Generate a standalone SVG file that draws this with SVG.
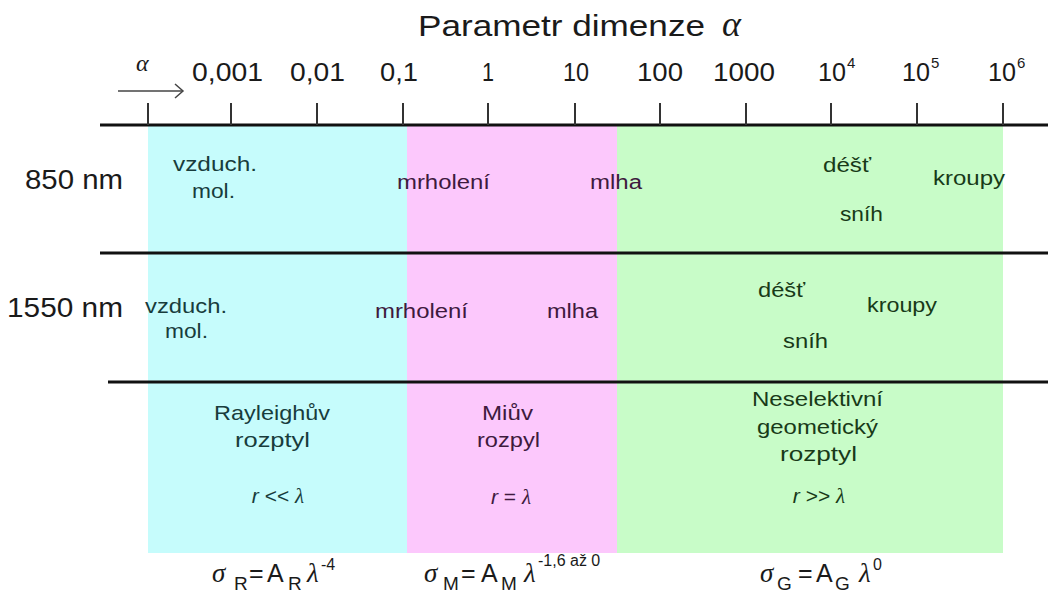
<svg xmlns="http://www.w3.org/2000/svg" width="1048" height="594" viewBox="0 0 1048 594">
<style>
.s{font-family:"Liberation Sans",Arial,sans-serif}
.t{font-family:"Liberation Sans",Arial,sans-serif;font-size:20px}
.b{font-family:"Liberation Sans",Arial,sans-serif;font-size:21px}
.g{font-family:"Liberation Serif","Times New Roman",serif;font-style:italic}
.ax{stroke:#111;stroke-width:3}
.tk{stroke:#333;stroke-width:2}
.c1{fill:#183c3c}
.c2{fill:#3e1a3e}
.c3{fill:#183a18}
.k{fill:#1a1a1a}
</style>
<g id="regions">
<rect x="148" y="126" width="259" height="427" fill="#c6fcfc"/>
<rect x="407" y="126" width="210" height="427" fill="#fcc8fc"/>
<rect x="617" y="126" width="386" height="427" fill="#c8fcc8"/>
</g>
<g id="axis">
<line class="ax" x1="100" y1="125" x2="1048" y2="125"/>
<line class="ax" x1="100" y1="253" x2="1048" y2="253"/>
<line class="ax" x1="108" y1="382" x2="1048" y2="382"/>
<g class="tk">
<line x1="148" y1="103" x2="148" y2="125"/>
<line x1="231" y1="103" x2="231" y2="125"/>
<line x1="317" y1="103" x2="317" y2="125"/>
<line x1="403" y1="103" x2="403" y2="125"/>
<line x1="488" y1="103" x2="488" y2="125"/>
<line x1="575" y1="103" x2="575" y2="125"/>
<line x1="660" y1="103" x2="660" y2="125"/>
<line x1="746" y1="103" x2="746" y2="125"/>
<line x1="831" y1="103" x2="831" y2="125"/>
<line x1="917" y1="103" x2="917" y2="125"/>
<line x1="1003" y1="103" x2="1003" y2="125"/>
</g>
</g>
<g id="title" class="k">
<text class="s" x="418" y="36" font-size="30" textLength="287" lengthAdjust="spacingAndGlyphs">Parametr dimenze</text>
<text class="g" x="722" y="36" font-size="36">α</text>
</g>
<g id="connectors">
<g stroke="#444" stroke-width="1.5" fill="none">
<line x1="118" y1="91" x2="183" y2="91"/>
<polyline points="175,84 183,91 175,98"/>
</g>
</g>
<g id="ticklabels" class="k s" font-size="25">
<text class="g" x="136" y="71" font-size="24">α</text>
<text x="192" y="81" textLength="71" lengthAdjust="spacingAndGlyphs">0,001</text>
<text x="290" y="81" textLength="55" lengthAdjust="spacingAndGlyphs">0,01</text>
<text x="380" y="81" textLength="38" lengthAdjust="spacingAndGlyphs">0,1</text>
<text x="482" y="81" textLength="12" lengthAdjust="spacingAndGlyphs">1</text>
<text x="563" y="81" textLength="26" lengthAdjust="spacingAndGlyphs">10</text>
<text x="637" y="81" textLength="46" lengthAdjust="spacingAndGlyphs">100</text>
<text x="713" y="81" textLength="62" lengthAdjust="spacingAndGlyphs">1000</text>
<text x="818" y="81" textLength="28" lengthAdjust="spacingAndGlyphs">10</text>
<text x="847" y="68" font-size="15">4</text>
<text x="902" y="81" textLength="28" lengthAdjust="spacingAndGlyphs">10</text>
<text x="931" y="68" font-size="15">5</text>
<text x="988" y="81" textLength="28" lengthAdjust="spacingAndGlyphs">10</text>
<text x="1017" y="68" font-size="15">6</text>
</g>
<g id="row-850" class="t">
<text class="k" x="25" y="189" font-size="27" textLength="98" lengthAdjust="spacingAndGlyphs">850 nm</text>
<text class="c1" x="173" y="171" textLength="84" lengthAdjust="spacingAndGlyphs">vzduch.</text>
<text class="c1" x="192" y="198" textLength="43" lengthAdjust="spacingAndGlyphs">mol.</text>
<text class="c2" x="397" y="189" textLength="93" lengthAdjust="spacingAndGlyphs">mrholení</text>
<text class="c2" x="590" y="189" textLength="52" lengthAdjust="spacingAndGlyphs">mlha</text>
<text class="c3" x="823" y="172" textLength="48" lengthAdjust="spacingAndGlyphs">déšť</text>
<text class="c3" x="933" y="185" textLength="72" lengthAdjust="spacingAndGlyphs">kroupy</text>
<text class="c3" x="840" y="221" textLength="43" lengthAdjust="spacingAndGlyphs">sníh</text>
</g>
<g id="row-1550" class="t">
<text class="k" x="7" y="317" font-size="27" textLength="116" lengthAdjust="spacingAndGlyphs">1550 nm</text>
<text class="c1" x="145" y="313" textLength="82" lengthAdjust="spacingAndGlyphs">vzduch.</text>
<text class="c1" x="165" y="338" textLength="43" lengthAdjust="spacingAndGlyphs">mol.</text>
<text class="c2" x="375" y="318" textLength="93" lengthAdjust="spacingAndGlyphs">mrholení</text>
<text class="c2" x="547" y="318" textLength="51" lengthAdjust="spacingAndGlyphs">mlha</text>
<text class="c3" x="758" y="297" textLength="47" lengthAdjust="spacingAndGlyphs">déšť</text>
<text class="c3" x="867" y="312" textLength="70" lengthAdjust="spacingAndGlyphs">kroupy</text>
<text class="c3" x="783" y="348" textLength="45" lengthAdjust="spacingAndGlyphs">sníh</text>
</g>
<g id="rayleigh" class="b c1">
<text x="214" y="420" textLength="116" lengthAdjust="spacingAndGlyphs">Rayleighův</text>
<text x="235" y="447" textLength="75" lengthAdjust="spacingAndGlyphs">rozptyl</text>
<text x="278" y="503" text-anchor="middle"><tspan font-style="italic">r</tspan> &lt;&lt; <tspan class="g">λ</tspan></text>
</g>
<g id="mie" class="b c2">
<text x="482" y="420" textLength="51" lengthAdjust="spacingAndGlyphs">Miův</text>
<text x="477" y="447" textLength="63" lengthAdjust="spacingAndGlyphs">rozpyl</text>
<text x="511" y="504" text-anchor="middle"><tspan font-style="italic">r</tspan> = <tspan class="g">λ</tspan></text>
</g>
<g id="geometric" class="b c3">
<text x="752" y="406" textLength="131" lengthAdjust="spacingAndGlyphs">Neselektivní</text>
<text x="757" y="434" textLength="121" lengthAdjust="spacingAndGlyphs">geometický</text>
<text x="780" y="461" textLength="77" lengthAdjust="spacingAndGlyphs">rozptyl</text>
<text x="819" y="503" text-anchor="middle"><tspan font-style="italic">r</tspan> &gt;&gt; <tspan class="g">λ</tspan></text>
</g>
<g id="formulas" class="s k" font-size="25">
<text class="g" x="212" y="582" font-size="27">σ</text>
<text x="234" y="590" font-size="19">R</text>
<text x="249" y="582">=</text>
<text x="267" y="582">A</text>
<text x="288" y="590" font-size="19">R</text>
<text class="g" x="307" y="582" font-size="27">λ</text>
<text x="321" y="570" font-size="16">-4</text>
<text class="g" x="424" y="582" font-size="27">σ</text>
<text x="443" y="590" font-size="19">M</text>
<text x="461" y="582">=</text>
<text x="481" y="582">A</text>
<text x="501" y="590" font-size="19">M</text>
<text class="g" x="524" y="582" font-size="27">λ</text>
<text x="538" y="566" font-size="16">-1,6 až 0</text>
<text class="g" x="760" y="582" font-size="27">σ</text>
<text x="777" y="590" font-size="19">G</text>
<text x="798" y="582">=</text>
<text x="816" y="582">A</text>
<text x="835" y="590" font-size="19">G</text>
<text class="g" x="859" y="582" font-size="27">λ</text>
<text x="873" y="570" font-size="16">0</text>
</g>
</svg>
